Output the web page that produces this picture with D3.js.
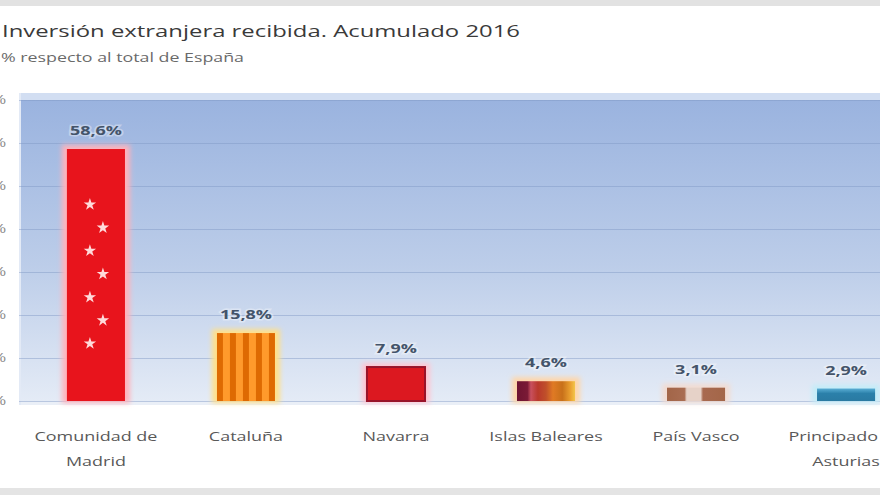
<!DOCTYPE html>
<html>
<head>
<meta charset="utf-8">
<style>
  body { margin: 0; background: #fff; }
  svg { display: block; font-family: "Open Sans", sans-serif; }
</style>
</head>
<body>
<svg width="880" height="495" class="chart"></svg>
<script src="https://d3js.org/d3.v7.min.js"></script>
<script>
    // data (% of the Spanish total)
    var categories = ["Comunidad de Madrid", "Cataluña", "Navarra", "Islas Baleares", "País Vasco", "Principado de Asturias"]
    var values = [58.6, 15.8, 7.9, 4.6, 3.1, 2.9]
    var yTicks = [0, 10, 20, 30, 40, 50, 60, 70]
    var title = "Inversión extranjera recibida. Acumulado 2016"
    var subtitle = "% respecto al total de España"

    var STRETCH = 1.38   // the source picture is squeezed wide, text looks stretched
    var fmt = function(v){ return d3.format(".1f")(v).replace(".", ",") + "%" }

    var svg = d3.select(".chart")
    var defs = svg.append("defs")

    // frame bands
    svg.append("rect").attr("x", 0).attr("y", 0).attr("width", 880).attr("height", 6).attr("fill", "#e2e2e2")
    svg.append("rect").attr("x", 0).attr("y", 488).attr("width", 880).attr("height", 7).attr("fill", "#e4e4e4")

    var plot = {left: 19, right: 921, top: 100, bottom: 401}

    var x = d3.scaleBand().domain(categories).range([plot.left + 2, plot.right]).paddingInner(0.613).paddingOuter(0.306)
    var y = d3.scaleLinear().domain([0, 70]).range([plot.bottom, plot.top])

    // background gradient of the plot area
    var bg = defs.append("linearGradient").attr("id", "bg").attr("x1", 0).attr("y1", 0).attr("x2", 0).attr("y2", 1)
    bg.append("stop").attr("offset", "0%").attr("stop-color", "#9ab3df")
    bg.append("stop").attr("offset", "55%").attr("stop-color", "#bccde9")
    bg.append("stop").attr("offset", "100%").attr("stop-color", "#e4ebf6")

    svg.append("rect").attr("x", plot.left).attr("y", plot.top - 7).attr("width", 900).attr("height", 7).attr("fill", "#d2def2")
    svg.append("rect").attr("x", plot.left).attr("y", plot.top).attr("width", 900).attr("height", plot.bottom - plot.top)
        .attr("fill", "url(#bg)")
    svg.append("rect").attr("x", plot.left).attr("y", plot.bottom).attr("width", 900).attr("height", 4).attr("fill", "#eaeff7")
    svg.append("rect").attr("x", plot.left).attr("y", plot.top - 7).attr("width", 2).attr("height", plot.bottom - plot.top + 11).attr("fill", "#e3eaf6")

    // gridlines + tick labels (labels sit mostly outside the picture, as in the source)
    var yAxis = svg.append("g").attr("transform", "translate(" + plot.left + ",0)")
        .call(d3.axisLeft(y).tickValues(yTicks).tickSize(-900).tickFormat(function(d){ return d + "%" }))
    yAxis.select(".domain").remove()
    yAxis.selectAll(".tick line").attr("stroke", "#7f97c4").attr("stroke-opacity", 0.45)
    yAxis.selectAll(".tick text").attr("x", -13).attr("fill", "#8a8a8a").attr("font-size", 12)

    // fills for each bar
    var stripes = defs.append("pattern").attr("id", "cat").attr("patternUnits", "userSpaceOnUse")
        .attr("width", 13).attr("height", 10).attr("x", x(categories[1]))
    stripes.append("rect").attr("width", 13).attr("height", 10).attr("fill", "#ff9a2c")
    stripes.append("rect").attr("width", 6).attr("height", 10).attr("fill", "#de6a02")

    var bal = defs.append("linearGradient").attr("id", "bal")
    ;[["0%", "#6e1431"], ["18%", "#7a1a36"], ["24%", "#c8505e"], ["36%", "#b9392c"], ["50%", "#c0502a"],
      ["62%", "#e07a24"], ["78%", "#c8701a"], ["92%", "#eaa030"], ["100%", "#f3c64a"]].forEach(function(s){
        bal.append("stop").attr("offset", s[0]).attr("stop-color", s[1])
    })
    var pv = defs.append("linearGradient").attr("id", "pv")
    ;[["0%", "#a26548"], ["30%", "#a96d52"], ["34%", "#e6d2c8"], ["58%", "#e6d2c8"], ["62%", "#a86a50"], ["100%", "#a36648"]].forEach(function(s){
        pv.append("stop").attr("offset", s[0]).attr("stop-color", s[1])
    })
    var ast = defs.append("linearGradient").attr("id", "ast").attr("x1", 0).attr("y1", 0).attr("x2", 0).attr("y2", 1)
    ast.append("stop").attr("offset", "0%").attr("stop-color", "#5aaed4")
    ast.append("stop").attr("offset", "40%").attr("stop-color", "#2b80aa")
    ast.append("stop").attr("offset", "100%").attr("stop-color", "#2a7aa2")

    var fills = ["#e8141c", "url(#cat)", "#dc1820", "url(#bal)", "url(#pv)", "url(#ast)"]
    var glows = ["#ffb3bb", "#ffe08a", "#ffc4d0", "#ffd6a8", "#f2dcd2", "#c4ecf8"]

    defs.append("filter").attr("id", "blur").attr("x", "-50%").attr("y", "-50%").attr("width", "200%").attr("height", "200%")
        .append("feGaussianBlur").attr("stdDeviation", 2.5)

    var bars = svg.selectAll("g.bar").data(categories).enter().append("g").attr("class", "bar")

    bars.append("rect")
        .attr("x", function(d){ return x(d) - 5 })
        .attr("y", function(d, i){ return y(values[i]) - 4 })
        .attr("width", x.bandwidth() + 10)
        .attr("height", function(d, i){ return y(0) - y(values[i]) + 6 })
        .attr("fill", function(d, i){ return glows[i] })
        .attr("filter", "url(#blur)")

    bars.append("rect")
        .attr("x", function(d){ return x(d) })
        .attr("y", function(d, i){ return y(values[i]) })
        .attr("width", x.bandwidth())
        .attr("height", function(d, i){ return y(0) - y(values[i]) })
        .attr("fill", function(d, i){ return fills[i] })
        .attr("stroke", function(d, i){ return i == 2 ? "#98142a" : "none" })
        .attr("stroke-width", 2)

    // seven white stars on the Madrid bar
    var mTop = y(values[0]), mH = y(0) - y(values[0]), mX = x(categories[0])
    var star = d3.symbol().type(d3.symbolStar).size(48)
    d3.range(7).forEach(function(k){
        svg.append("path").attr("d", star)
            .attr("transform", "translate(" + (mX + (k % 2 ? 36 : 23)) + "," + (mTop + mH * (0.22 + k * 0.092)) + ")")
            .attr("fill", "#ffdada")
    })

    // value labels
    bars.append("text")
        .attr("class", "stretch")
        .attr("x", function(d){ return x(d) + x.bandwidth() / 2 })
        .attr("y", function(d, i){ return y(values[i]) - 14 })
        .attr("text-anchor", "middle")
        .attr("font-size", 13).attr("font-weight", "bold")
        .attr("fill", "#44546a")
        .attr("stroke", "#ffffff").attr("stroke-opacity", 0.35).attr("stroke-width", 3).attr("paint-order", "stroke")
        .text(function(d, i){ return fmt(values[i]) })

    // category labels, wrapped
    bars.append("text")
        .attr("text-anchor", "middle")
        .attr("font-size", 13)
        .attr("fill", "#595959")
        .each(function(d){
            var t = d3.select(this), cx = x(d) + x.bandwidth() / 2
            var words = d.split(" "), lines = [], cur = ""
            words.forEach(function(w){
                var test = cur ? cur + " " + w : w
                if (test.length > 14 && cur) { lines.push(cur); cur = w } else cur = test
            })
            lines.push(cur)
            lines.forEach(function(l, j){
                t.append("tspan").attr("class", "stretch").attr("x", cx).attr("y", 441 + j * 25).text(l)
            })
        })

    // widen glyphs to the look of the source
    svg.selectAll(".stretch, .tick text").each(function(){
        var w = this.getComputedTextLength()
        d3.select(this).attr("textLength", w * STRETCH).attr("lengthAdjust", "spacingAndGlyphs")
    })

    // titles, fitted to the width they take in the source
    svg.append("text").attr("x", 2).attr("y", 37)
        .attr("font-size", 17).attr("fill", "#3a3a3a")
        .attr("textLength", 518).attr("lengthAdjust", "spacingAndGlyphs").text(title)
    svg.append("text").attr("x", 1).attr("y", 62)
        .attr("font-size", 12).attr("fill", "#6a6a6a")
        .attr("textLength", 243).attr("lengthAdjust", "spacingAndGlyphs").text(subtitle)
</script>
</body>
</html>
